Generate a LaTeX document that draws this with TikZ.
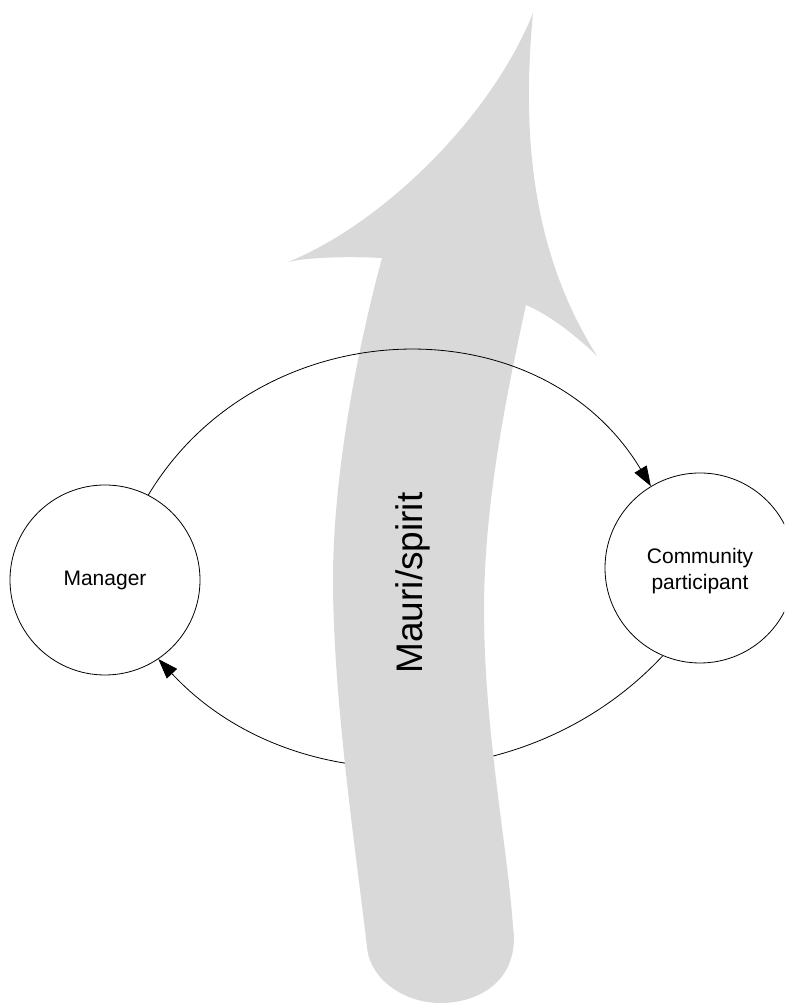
\documentclass[tikz,border=0pt]{standalone}
\usepackage{fontspec}
\setmainfont{Liberation Sans}
\usetikzlibrary{arrows.meta}
\definecolor{spiritgray}{HTML}{D9D9D9}
\tikzset{
  role/.style={circle, draw=black, line width=0.8pt, minimum size=190pt, inner sep=0pt,
               align=center, font=\fontsize{21}{25.5}\selectfont},
  flow/.style={draw=black, line width=0.8pt, -{Triangle[length=20pt,width=14pt]}},
  spirit/.style={fill=spiritgray, draw=none},
}
\begin{document}
\begin{tikzpicture}[x=1pt, y=1pt]
  \useasboundingbox (0,0) rectangle (784,1003);
  \clip (0,0) rectangle (784,1003);

  % the two roles
  \path (105,423) node[role] (mgr) {};
  \path (700,435) node[role] (cp) {};

  % return path, passing behind the spirit arrow
  \draw[flow] (cp.247) to[out=227, in=-47, looseness=1.0] (mgr.-56);

  % the rising spirit arrow
  \path[spirit]
    (533,990)
    .. controls (522,873) and (530,753) .. (597,647)
    .. controls (570,673) and (545,690) .. (526,698)
    .. controls (504,598) and (484,493) .. (484,393)
    .. controls (484,273) and (508,153) .. (513,76)
    .. controls (520,28) and (485,0) .. (440,0)
    .. controls (405,0) and (370,23) .. (367,56)
    .. controls (357,143) and (333,303) .. (333,423)
    .. controls (333,523) and (355,645) .. (382,745)
    .. controls (340,747) and (305,745) .. (288,741)
    .. controls (380,778) and (490,883) .. (533,990)
    -- cycle;

  % outgoing path, drawn over the spirit arrow
  \draw[flow] (mgr.63) to[out=59, in=121, looseness=1.1] (cp.121);

  % labels
  \node[font=\fontsize{21}{25.5}\selectfont] (mgrlabel) at (mgr.center) {Manager};
  \node[font=\fontsize{21}{25.5}\selectfont, align=center] (cplabel) at ([yshift=-3pt]cp.center) {Community\\participant};
  \node[font=\fontsize{37}{44}\selectfont, rotate=90, anchor=base] (spiritlabel) at (422,420) {Mauri/spirit};
\end{tikzpicture}
\end{document}
